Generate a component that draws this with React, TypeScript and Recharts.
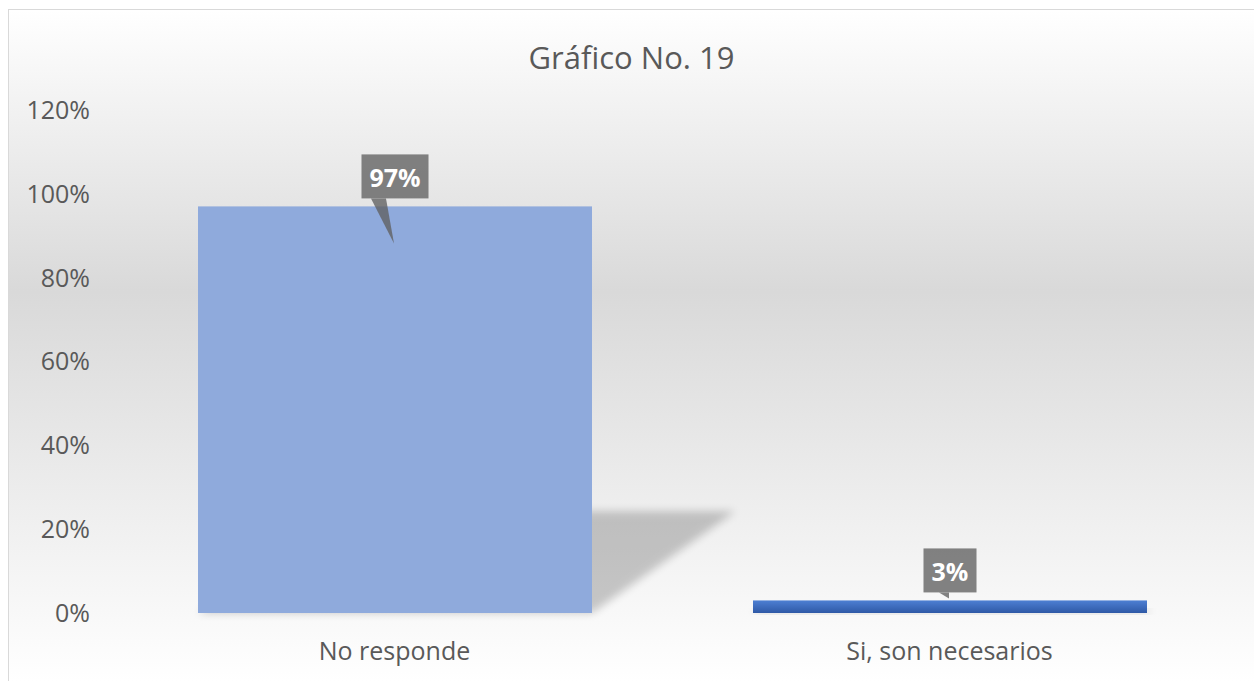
import { Bar, BarChart, Cell, LabelList, XAxis, YAxis } from "recharts"

const categories = ["No responde", "Si, son necesarios"]
const values = [97, 3]
const yTicks = [0, 20, 40, 60, 80, 100, 120]

const barColors = ["#8faadc", "url(#barGrad1)"]

const data = categories.map((name, i) => ({ name, value: values[i] }))

const font = "'Open Sans', sans-serif"
const textColor = "#595959"

function ShadowBar(props: any) {
  const { x, y, width, height, fill, index } = props
  if (height <= 0) return null
  const h = height * 0.25
  const dx = h * 1.41
  const by = y + height
  const pts = `${x},${by} ${x + width},${by} ${x + width + dx},${by - h} ${x + dx},${by - h}`
  return (
    <g>
      <defs>
        <filter id={`shadowBlur${index}`} x="-20%" y="-50%" width="140%" height="200%">
          <feGaussianBlur stdDeviation="4" />
        </filter>
        <linearGradient id="barGrad1" x1="0" y1="0" x2="0" y2="1">
          <stop offset="0%" stopColor="#4d7fd3" />
          <stop offset="100%" stopColor="#2f59a6" />
        </linearGradient>
      </defs>
      <polygon points={pts} fill="#000" opacity={0.2} filter={`url(#shadowBlur${index})`} />
      <rect x={x} y={y} width={width} height={height} fill={fill} />
    </g>
  )
}

function Callout(props: any) {
  const { x, y, width, height, value } = props
  const label = `${value}%`
  const cx = x + width / 2
  const boxW = label.length * 14 + 25
  const boxH = 44
  const bottom = y - 8
  const top = bottom - boxH
  const tall = height > 100
  const pointer = tall
    ? `${cx - 24},${bottom} ${cx - 9},${bottom} ${cx - 1},${y + 37}`
    : `${cx - 11},${bottom} ${cx - 1},${bottom} ${cx - 1},${y - 2}`
  return (
    <g>
      <rect x={cx - boxW / 2} y={top} width={boxW} height={boxH} fill="#606060" opacity={0.78} />
      <polygon points={pointer} fill="#606060" opacity={0.78} />
      <text
        x={cx}
        y={top + boxH / 2 + 1}
        textAnchor="middle"
        dominantBaseline="central"
        fill="#ffffff"
        fontFamily={font}
        fontWeight={700}
        fontSize={25}
      >
        {label}
      </text>
    </g>
  )
}

export default function App() {
  return (
    <div
      style={{
        position: "absolute",
        left: 8,
        top: 9,
        width: 1246,
        height: 672,
        boxSizing: "border-box",
        borderLeft: "1px solid #d9d9d9",
        borderTop: "1px solid #d9d9d9",
        background: "linear-gradient(to bottom, #ffffff 0%, #d9d9d9 42%, #ffffff 100%)",
        overflow: "hidden",
      }}
    >
      <div
        style={{
          position: "absolute",
          left: 0,
          right: 0,
          top: 29,
          textAlign: "center",
          fontFamily: font,
          fontSize: 31,
          lineHeight: "36px",
          color: textColor,
        }}
      >
        Gráfico No. 19
      </div>
      <BarChart
        width={1245}
        height={671}
        data={data}
        margin={{ top: 100, right: 27, left: 0, bottom: 0 }}
      >
        <XAxis
          dataKey="name"
          axisLine={false}
          tickLine={false}
          tickSize={0}
          tickMargin={29}
          height={68}
          tick={{ fill: textColor, fontSize: 25, fontFamily: font }}
        />
        <YAxis
          domain={[0, 120]}
          ticks={yTicks}
          axisLine={false}
          tickLine={false}
          tickSize={0}
          tickMargin={27}
          width={108}
          tickFormatter={(v) => `${v}%`}
          tick={{ fill: textColor, fontSize: 25, fontFamily: font }}
        />
        <Bar dataKey="value" barSize={394} shape={ShadowBar} isAnimationActive={false}>
          {data.map((d, i) => (
            <Cell key={d.name} fill={barColors[i]} />
          ))}
          <LabelList dataKey="value" content={Callout} />
        </Bar>
      </BarChart>
    </div>
  )
}
